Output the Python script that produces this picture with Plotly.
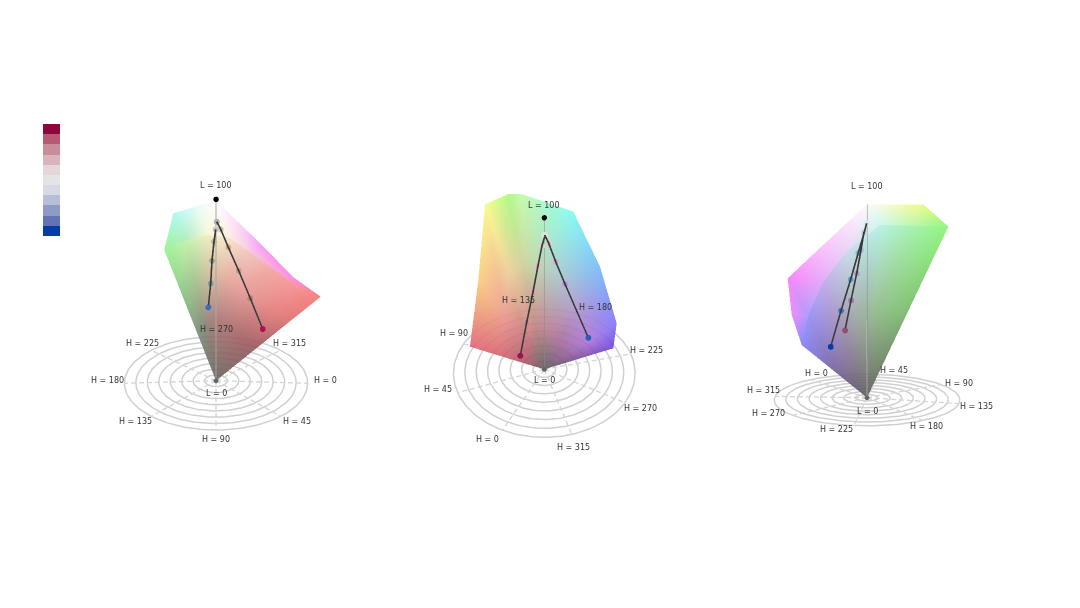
import numpy as np
import plotly.graph_objects as go

W, H = 1080, 608

# colour key
KEY_COLOURS = ["#8e073c", "#b45a73", "#c88c9b", "#dab4bc", "#e4d7da", "#e4e4e4",
               "#d7dae4", "#b7bed7", "#8f9bc5", "#6473b4", "#023ea5"]
KEY_EDGES = [124 + i * 112 / 11 for i in range(12)]
KEY_X = [43, 60]

# polar base of each panel: origin, ring radii, vertical shift, hue rotation
RING_STEPS = [1, 2, 3, 4, 5, 6, 7, 8]
HUES = [0, 45, 90, 135, 180, 225, 270, 315]
BASE1 = dict(cx=216.0, cy=380.7, rx=91.6, ry=46.7, shift=2.6, rot=0)
BASE2 = dict(cx=544.3, cy=369.3, rx=90.8, ry=64.0, shift=4.0, rot=-242.6)
BASE3 = dict(cx=867.0, cy=397.7, rx=92.8, ry=25.7, shift=2.3, rot=-127)

# labels
LABELS1 = [("L = 100", 216, 185.3), ("H = 270", 216, 329), ("H = 225", 142.7, 343.7), ("H = 315", 289.3, 343.7),
           ("H = 180", 107.3, 380.7), ("H = 0", 325, 380.7), ("L = 0", 216, 393), ("H = 135", 135.3, 421.7),
           ("H = 45", 297, 421.7), ("H = 90", 216, 439.7)]
LABELS2 = [("L = 100", 544.3, 205.3), ("H = 135", 518, 300.3), ("H = 180", 595.7, 307), ("H = 90", 453.7, 333),
           ("H = 225", 646.7, 350), ("L = 0", 544.3, 380.3), ("H = 45", 438.3, 389.3), ("H = 270", 640.3, 408.7),
           ("H = 0", 487.7, 439.3), ("H = 315", 573.7, 447.3)]
LABELS3 = [("L = 100", 867.3, 186), ("H = 45", 893.7, 370.3), ("H = 0", 816, 373), ("H = 90", 958.7, 383.3),
           ("H = 315", 763.3, 390), ("H = 135", 976, 406), ("L = 0", 867.3, 411.3), ("H = 270", 768, 413.7),
           ("H = 180", 926, 426), ("H = 225", 836.7, 429.3)]

# colour surfaces: rim outline + colours per row (rim -> origin)
P1_FRONT_X = [164.3, 186.7, 208.3, 230.0, 250.0, 272.0, 296.0, 320.7]
P1_FRONT_Y = [250.0, 240.0, 235.0, 238.0, 252.0, 268.0, 286.0, 296.7]
P1_FRONT_T = [1.0, 0.72, 0.4, 0.0]
P1_FRONT_C = [[(145, 240, 135), (190, 240, 165), (240, 235, 185), (245, 225, 195), (240, 190, 185), (240, 160, 155), (245, 135, 135), (245, 115, 110)],
              [(135, 205, 125), (160, 190, 135), (210, 180, 145), (225, 165, 150), (228, 150, 145), (225, 135, 130), (225, 115, 115), (220, 105, 105)],
              [(115, 145, 110), (130, 125, 110), (155, 110, 105), (165, 105, 105), (165, 100, 100), (160, 90, 95), (155, 85, 90), (150, 80, 90)],
              [(100, 95, 90)] * 8]
P1_BACK_X = [[164.3, 173.3, 195.0, 216.0, 238.0, 263.0, 293.0, 320.7], [164.3, 186.7, 208.3, 230.0, 250.0, 272.0, 296.0, 320.7]]
P1_BACK_Y = [[250.0, 213.3, 206.7, 200.7, 222.0, 246.0, 277.0, 296.7], [250.0, 240.0, 235.0, 238.0, 252.0, 268.0, 286.0, 296.7]]
P1_BACK_C = [[(145, 240, 135), (165, 250, 240), (225, 250, 250), (255, 255, 255), (250, 210, 250), (250, 140, 250), (250, 125, 225), (245, 115, 110)],
             [(145, 240, 135), (170, 235, 185), (245, 245, 210), (250, 235, 225), (245, 195, 225), (250, 160, 215), (248, 130, 180), (245, 115, 110)]]

P2_X = [470.0, 478.3, 485.0, 508.3, 521.7, 573.3, 600.0, 616.7, 613.3]
P2_Y = [346.7, 280.0, 204.3, 194.0, 194.0, 211.7, 266.7, 323.3, 348.3]
P2_T = [1.0, 0.6, 0.25, 0.0]
P2_C = [[(225, 95, 115), (250, 200, 120), (250, 250, 130), (165, 250, 120), (190, 250, 165), (120, 250, 240), (110, 185, 250), (125, 110, 250), (105, 60, 215)],
        [(215, 95, 110), (235, 145, 135), (235, 205, 145), (205, 205, 145), (190, 210, 160), (160, 195, 205), (170, 145, 205), (170, 110, 215), (125, 70, 165)],
        [(170, 80, 95), (190, 95, 110), (205, 125, 125), (190, 125, 125), (190, 125, 130), (180, 120, 145), (160, 100, 145), (135, 85, 135), (110, 75, 115)],
        [(90, 85, 90)] * 9]

P3_FRONT_X = [801.7, 808.3, 823.3, 846.7, 880.0, 913.3, 948.3]
P3_FRONT_Y = [345.0, 315.0, 281.7, 251.7, 225.0, 225.7, 226.7]
P3_FRONT_T = [1.0, 0.5, 0.0]
P3_FRONT_C = [[(125, 120, 250), (145, 135, 245), (185, 165, 235), (195, 215, 230), (175, 240, 225), (155, 240, 165), (130, 245, 110)],
              [(110, 90, 150), (125, 105, 165), (140, 125, 160), (145, 155, 150), (140, 180, 135), (125, 185, 115), (115, 180, 100)],
              [(90, 85, 85)] * 7]
P3_BACK_X = [[801.7, 791.7, 787.7, 826.7, 867.0, 923.3, 948.3], [801.7, 808.3, 823.3, 846.7, 880.0, 913.3, 948.3]]
P3_BACK_Y = [[345.0, 315.0, 278.3, 241.7, 204.3, 204.3, 226.7], [345.0, 315.0, 281.7, 251.7, 225.0, 225.7, 226.7]]
P3_BACK_C = [[(125, 120, 250), (235, 125, 250), (245, 120, 250), (250, 195, 250), (250, 250, 250), (235, 250, 120), (130, 245, 110)],
             [(125, 120, 250), (165, 145, 245), (225, 160, 245), (230, 205, 245), (200, 245, 235), (180, 245, 165), (130, 245, 110)]]

# palette lines
P1_LINE_A = ([208.3, 210.7, 212.0, 214.0, 215.7], [307.3, 283.3, 260.7, 241.7, 229.3])
P1_LINE_A_C = ["#3c6eb4", "#7f9ea0", "#98a890", "#b8b8a0", "#c8c8c0"]
P1_LINE_B = ([262.7, 250.3, 238.7, 228.3, 220.7, 216.7], [329.0, 298.3, 270.7, 247.3, 229.3, 221.7])
P1_LINE_B_C = ["#b01050", "#c08070", "#d09a88", "#d8b090", "#d8c8a8", "#b0b0b0"]
P1_TOP = (216.0, 199.3)

P2_LINE_A = ([520.3, 526.7, 533.0, 538.0, 542.0, 544.7], [355.7, 322.3, 292.0, 265.7, 245.7, 236.7])
P2_LINE_A_C = ["#a01050", "#d08098", "#e0a0b0", "#e8b8c4", "#e8c8d0", "#e8e0e4"]
P2_LINE_B = ([588.3, 565.0, 555.7, 548.7, 544.7], [337.7, 284.0, 261.7, 243.3, 235.0])
P2_LINE_B_C = ["#2a60b0", "#c090d8", "#d0a8d0", "#e0c0d0", "#e8e0e4"]
P2_TOP = (544.3, 217.7)

P3_LINE_A = ([830.7, 841.0, 850.7, 858.3, 864.0, 866.7], [346.7, 310.7, 279.3, 252.7, 233.3, 223.3])
P3_LINE_A_C = ["#023ea5", "#4078c0", "#60a0d8", "#80c0e0", "#c0e0e8", "#d8e8f0"]
P3_LINE_B = ([845.0, 851.0, 856.7, 861.0, 864.0], [330.3, 300.3, 273.3, 250.0, 231.7])
P3_LINE_B_C = ["#905070", "#9a80a8", "#a8a0c8", "#a0c8e0", "#c0dce8"]


def scene_y(values):
    return [H - v for v in values]


def fan_points(xs, ys, cx, cy, ts):
    gx, gy = [], []
    for t in ts:
        gx.append([cx + t * (x - cx) for x in xs])
        gy.append([cy + t * (y - cy) for y in ys])
    return gx, gy


def patch(gx, gy, colours, opacity=0.88):
    rows, cols = len(gx), len(gx[0])
    x = [v for row in gx for v in row]
    y = scene_y([v for row in gy for v in row])
    c = ["rgb(%d,%d,%d)" % v for row in colours for v in row]
    i, j, k = [], [], []
    for r in range(rows - 1):
        for q in range(cols - 1):
            a = r * cols + q
            b = a + 1
            d = a + cols
            e = d + 1
            i += [a, b]
            j += [b, e]
            k += [d, d]
    return go.Mesh3d(x=x, y=y, z=[0] * len(x), i=i, j=j, k=k, vertexcolor=c, opacity=opacity,
                     flatshading=False, hoverinfo="skip", showscale=False, scene="scene",
                     lighting=dict(ambient=1, diffuse=0, specular=0, roughness=1, fresnel=0))


def polyline(line, colours):
    n = len(line[0])
    y = scene_y(line[1])
    return [
        go.Scatter3d(x=line[0], y=y, z=[0.8] * n, mode="markers",
                     marker=dict(size=3.6, color=colours, line=dict(width=0)),
                     hoverinfo="skip", showlegend=False, scene="scene"),
        go.Scatter3d(x=line[0], y=y, z=[1] * n, mode="lines", line=dict(color="#3a3a3a", width=3.5),
                     hoverinfo="skip", showlegend=False, scene="scene"),
        go.Scatter3d(x=line[0][:1], y=y[:1], z=[1.2], mode="markers",
                     marker=dict(size=3, color=colours[0], line=dict(width=0)),
                     hoverinfo="skip", showlegend=False, scene="scene"),
    ]


def ring_xy(b, step):
    r = step / RING_STEPS[-1]
    a = np.linspace(0, 2 * np.pi, 181)
    return (b["cx"] + r * b["rx"] * np.cos(a),
            b["cy"] + b["shift"] * r ** 2 + r * b["ry"] * np.sin(a))


def base_traces(b):
    out = []
    for step in RING_STEPS:
        rx, ry = ring_xy(b, step)
        out.append(go.Scatter(x=rx, y=ry, mode="lines", line=dict(color="#d0d0d0", width=1.5),
                              hoverinfo="skip", showlegend=False))
    for hue in HUES:
        a = np.deg2rad(hue + b["rot"])
        out.append(go.Scatter(x=[b["cx"], b["cx"] + b["rx"] * np.cos(a)],
                              y=[b["cy"], b["cy"] + b["shift"] + b["ry"] * np.sin(a)],
                              mode="lines", line=dict(color="#d4d4d4", width=1.3, dash="5px,3px"),
                              hoverinfo="skip", showlegend=False))
    return out


fig = go.Figure()
fig.add_trace(go.Heatmap(z=[[i] for i in range(11)], x=KEY_X, y=KEY_EDGES,
                         colorscale=[[i / 10, c] for i, c in enumerate(KEY_COLOURS)],
                         showscale=False, hoverinfo="skip"))
for b in (BASE1, BASE2, BASE3):
    for t in base_traces(b):
        fig.add_trace(t)

gx, gy = fan_points(P1_FRONT_X, P1_FRONT_Y, BASE1["cx"], BASE1["cy"], P1_FRONT_T)
fig.add_trace(patch(gx, gy, P1_FRONT_C))
fig.add_trace(patch(P1_BACK_X, P1_BACK_Y, P1_BACK_C))
gx, gy = fan_points(P2_X, P2_Y, BASE2["cx"], BASE2["cy"], P2_T)
fig.add_trace(patch(gx, gy, P2_C))
gx, gy = fan_points(P3_FRONT_X, P3_FRONT_Y, BASE3["cx"], BASE3["cy"], P3_FRONT_T)
fig.add_trace(patch(gx, gy, P3_FRONT_C))
fig.add_trace(patch(P3_BACK_X, P3_BACK_Y, P3_BACK_C))

for base, top in ((BASE1, P1_TOP), (BASE2, P2_TOP), (BASE3, (867.3, 204.3))):
    fig.add_trace(go.Scatter3d(x=[base["cx"], top[0]], y=scene_y([base["cy"], top[1]]), z=[0.5, 0.5],
                               mode="lines", line=dict(color="#8c8c8c", width=1.5),
                               hoverinfo="skip", showlegend=False, scene="scene"))
for line, colours in ((P1_LINE_A, P1_LINE_A_C), (P1_LINE_B, P1_LINE_B_C), (P2_LINE_A, P2_LINE_A_C),
                      (P2_LINE_B, P2_LINE_B_C), (P3_LINE_A, P3_LINE_A_C), (P3_LINE_B, P3_LINE_B_C)):
    for t in polyline(line, colours):
        fig.add_trace(t)
for top in (P1_TOP, P2_TOP):
    fig.add_trace(go.Scatter3d(x=[top[0]], y=scene_y([top[1]]), z=[1.5], mode="markers",
                               marker=dict(size=3.2, color="#000000"), hoverinfo="skip",
                               showlegend=False, scene="scene"))
for base in (BASE1, BASE2, BASE3):
    fig.add_trace(go.Scatter3d(x=[base["cx"]], y=scene_y([base["cy"]]), z=[1.5], mode="markers",
                               marker=dict(size=2.8, color="#666666"), hoverinfo="skip",
                               showlegend=False, scene="scene"))

annotations = [dict(x=x, y=y, xref="x", yref="y", text=t, showarrow=False,
                    font=dict(family="DejaVu Sans", size=8, color="#333333"), xanchor="center", yanchor="middle")
               for t, x, y in LABELS1 + LABELS2 + LABELS3]

hidden = dict(visible=False, showgrid=False, zeroline=False, showbackground=False, showspikes=False)
fig.update_layout(
    width=W, height=H, margin=dict(l=0, r=0, t=0, b=0), paper_bgcolor="white", plot_bgcolor="white",
    showlegend=False, annotations=annotations,
    xaxis=dict(range=[0, W], visible=False, fixedrange=True),
    yaxis=dict(range=[H, 0], visible=False, fixedrange=True),
    scene=dict(
        domain=dict(x=[0, 1], y=[0, 1]),
        xaxis=dict(range=[0, W], **hidden), yaxis=dict(range=[0, H], **hidden), zaxis=dict(range=[-2, 3], **hidden),
        aspectmode="manual", aspectratio=dict(x=2 * W / H, y=2, z=0.1),
        bgcolor="rgba(0,0,0,0)",
        camera=dict(eye=dict(x=0, y=0, z=1.0), up=dict(x=0, y=1, z=0), center=dict(x=0, y=0, z=0),
                    projection=dict(type="orthographic")),
    ),
)
fig.write_html("out.html", post_script="document.body.style.margin='0';", config=dict(displayModeBar=False))
